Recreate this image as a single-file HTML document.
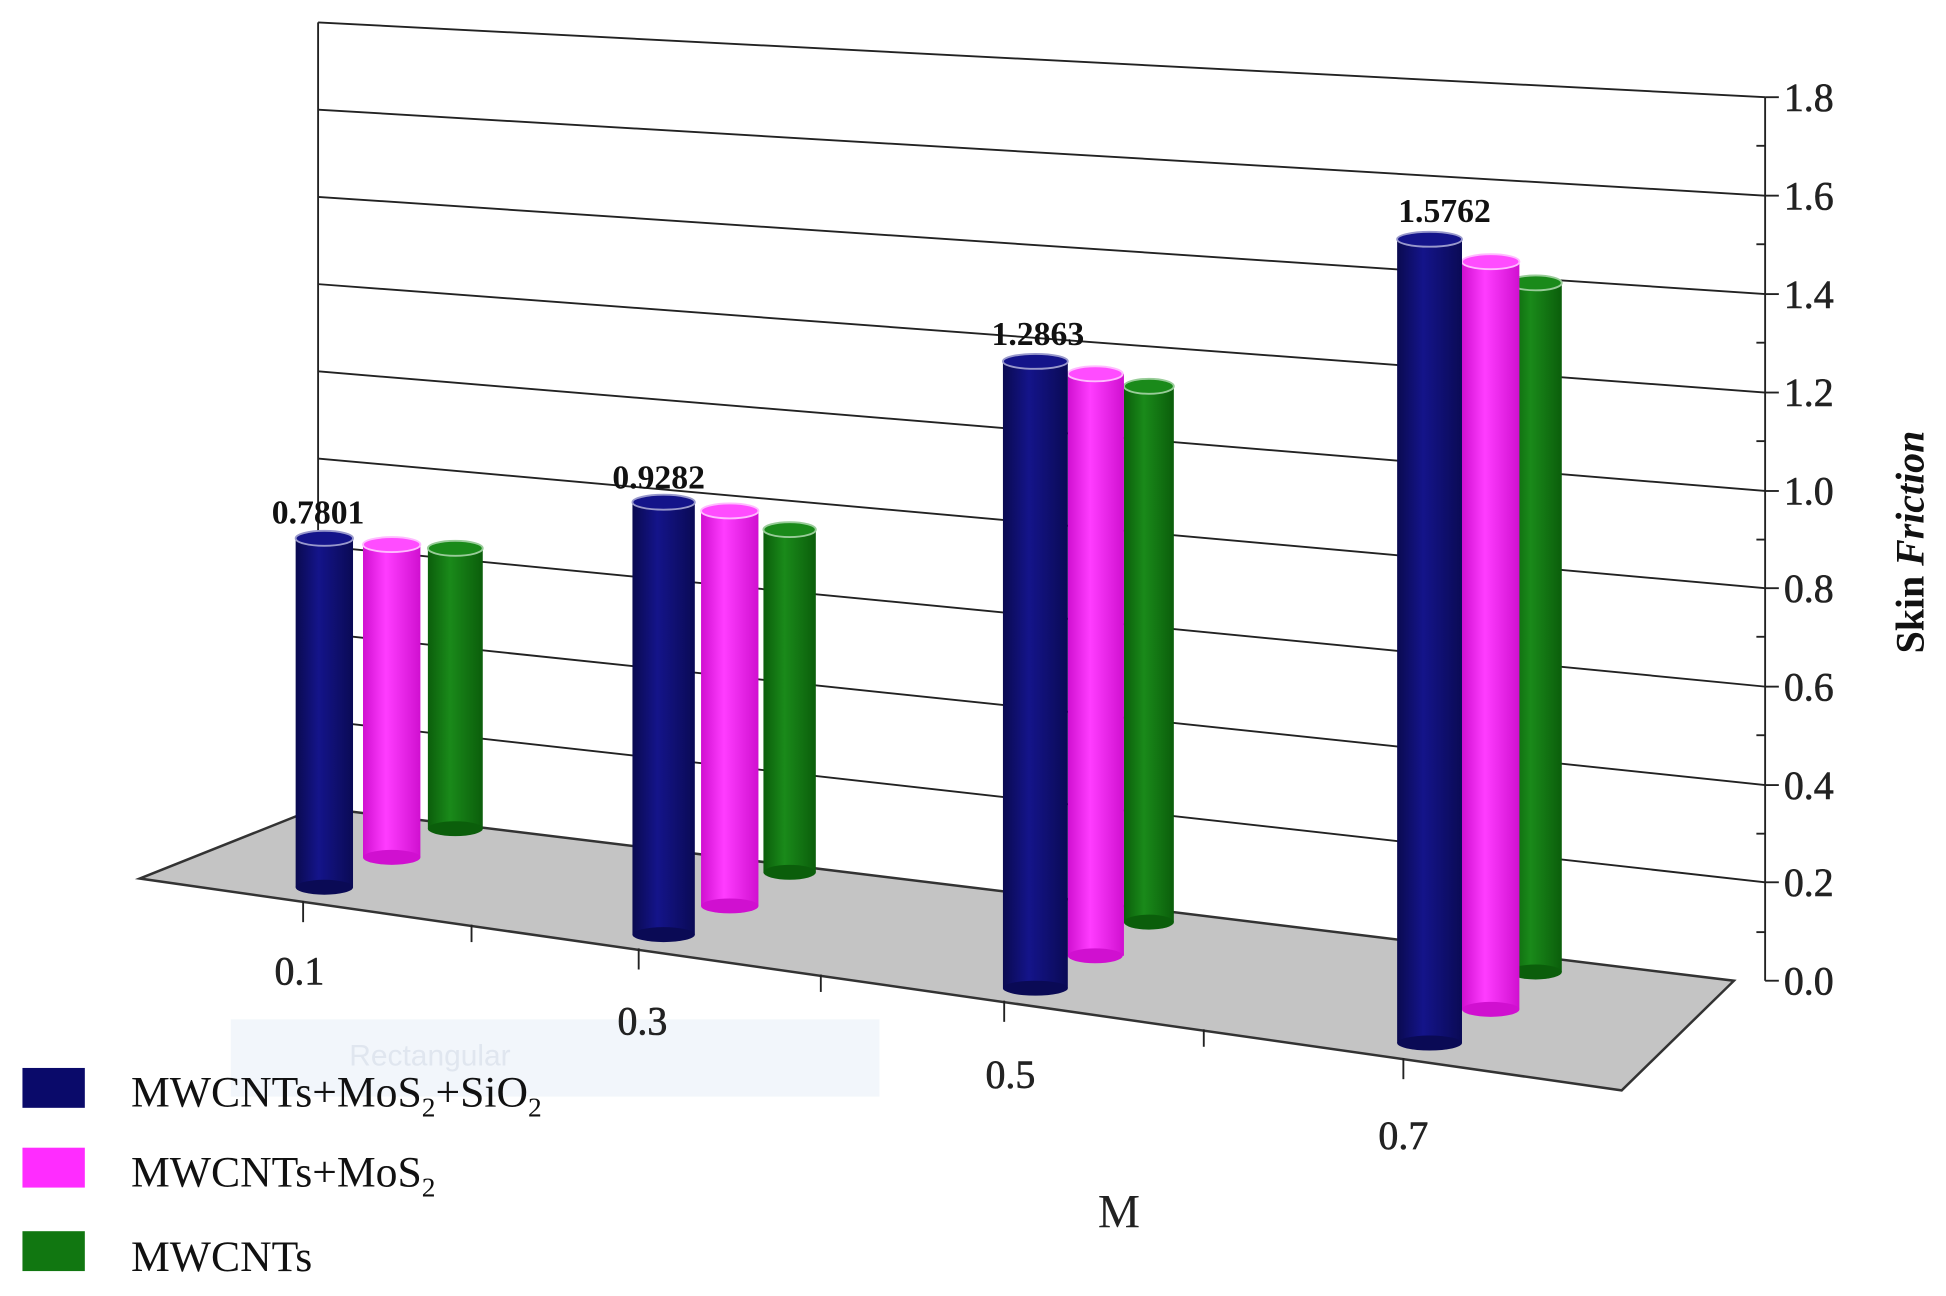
<!DOCTYPE html>
<html><head><meta charset="utf-8"><style>html,body{margin:0;padding:0;background:#fff}svg{display:block}</style></head>
<body>
<svg width="1946" height="1296" viewBox="0 0 1560 1040" preserveAspectRatio="none" xmlns="http://www.w3.org/2000/svg" font-family="Liberation Serif, serif">
<defs>
<linearGradient id="gb" x1="0" x2="1"><stop offset="0" stop-color="#0a0a50"/><stop offset="0.4" stop-color="#14148a"/><stop offset="1" stop-color="#0a0a55"/></linearGradient>
<linearGradient id="gp" x1="0" x2="1"><stop offset="0" stop-color="#d010d0"/><stop offset="0.4" stop-color="#ff3cff"/><stop offset="1" stop-color="#d010d0"/></linearGradient>
<linearGradient id="gg" x1="0" x2="1"><stop offset="0" stop-color="#0b5e0b"/><stop offset="0.4" stop-color="#1a8a1a"/><stop offset="1" stop-color="#0b5e0b"/></linearGradient>
</defs>
<rect width="1560" height="1040" fill="#fff"/>
<rect x="185" y="818" width="520" height="62" fill="#f2f6fb"/>
<text x="280" y="855" font-size="24" fill="#e0e6ef" font-family="Liberation Sans, sans-serif">Rectangular</text>
<polygon points="112,705 255,648 1390,787 1300,875" fill="#c4c4c4" stroke="#333" stroke-width="2"/>
<line x1="255" y1="18" x2="255" y2="648" stroke="#222" stroke-width="1.5"/>
<g stroke="#222" stroke-width="1.5">
<line x1="255" y1="18" x2="1415" y2="78"/>
<line x1="255" y1="88" x2="1415" y2="157"/>
<line x1="255" y1="158" x2="1415" y2="236"/>
<line x1="255" y1="228" x2="1415" y2="315"/>
<line x1="255" y1="298" x2="1415" y2="394"/>
<line x1="255" y1="368" x2="1415" y2="472"/>
<line x1="255" y1="438" x2="1415" y2="551"/>
<line x1="255" y1="508" x2="1415" y2="630"/>
<line x1="255" y1="578" x2="1415" y2="708"/>
<line x1="1415" y1="78" x2="1415" y2="787"/>
<line x1="1415" y1="78" x2="1426" y2="78"/><line x1="1415" y1="157" x2="1426" y2="157"/><line x1="1415" y1="236" x2="1426" y2="236"/><line x1="1415" y1="315" x2="1426" y2="315"/><line x1="1415" y1="394" x2="1426" y2="394"/><line x1="1415" y1="472" x2="1426" y2="472"/><line x1="1415" y1="551" x2="1426" y2="551"/><line x1="1415" y1="630" x2="1426" y2="630"/><line x1="1415" y1="708" x2="1426" y2="708"/><line x1="1415" y1="787" x2="1426" y2="787"/>
<line x1="1408" y1="117" x2="1415" y2="117"/><line x1="1408" y1="196" x2="1415" y2="196"/><line x1="1408" y1="275" x2="1415" y2="275"/><line x1="1408" y1="354" x2="1415" y2="354"/><line x1="1408" y1="433" x2="1415" y2="433"/><line x1="1408" y1="511" x2="1415" y2="511"/><line x1="1408" y1="590" x2="1415" y2="590"/><line x1="1408" y1="669" x2="1415" y2="669"/><line x1="1408" y1="748" x2="1415" y2="748"/>
<line x1="243" y1="723" x2="243" y2="740"/><line x1="378" y1="742" x2="378" y2="756"/><line x1="512" y1="761" x2="512" y2="778"/><line x1="658" y1="782" x2="658" y2="796"/><line x1="805" y1="803" x2="805" y2="820"/><line x1="965" y1="826" x2="965" y2="840"/><line x1="1125" y1="849" x2="1125" y2="866"/>
</g>
<g font-size="32" fill="#222" stroke="#222" stroke-width="0.5">
<text x="1430" y="89">1.8</text><text x="1430" y="168">1.6</text><text x="1430" y="247">1.4</text><text x="1430" y="326">1.2</text><text x="1430" y="405">1.0</text><text x="1430" y="483">0.8</text><text x="1430" y="562">0.6</text><text x="1430" y="641">0.4</text><text x="1430" y="719">0.2</text><text x="1430" y="798">0.0</text>
</g>
<text transform="translate(1542,435) rotate(-90)" text-anchor="middle" font-size="32" font-weight="bold" fill="#111">Skin <tspan font-style="italic">Friction</tspan></text>
<g font-size="32" fill="#222" text-anchor="middle" stroke="#222" stroke-width="0.5">
<text x="240" y="790">0.1</text><text x="515" y="830">0.3</text><text x="810" y="873">0.5</text><text x="1125" y="922">0.7</text>
</g>
<text x="897" y="985" font-size="38" text-anchor="middle" fill="#222">M</text>
<g stroke-width="1.5">
<rect x="343" y="440" width="44" height="225" fill="url(#gg)"/><ellipse cx="365" cy="665" rx="22" ry="6" fill="#0b5e0b"/><ellipse cx="365" cy="440" rx="22" ry="6" fill="#1a8a1a" stroke="#9c9"/>
<rect x="291" y="437" width="46" height="251" fill="url(#gp)"/><ellipse cx="314" cy="688" rx="23" ry="6" fill="#d010d0"/><ellipse cx="314" cy="437" rx="23" ry="6" fill="#ff4cff" stroke="#fbf"/>
<rect x="237" y="432" width="46" height="280" fill="url(#gb)"/><ellipse cx="260" cy="712" rx="23" ry="6" fill="#0a0a55"/><ellipse cx="260" cy="432" rx="23" ry="6" fill="#14148a" stroke="#99c"/>
<rect x="612" y="425" width="42" height="275" fill="url(#gg)"/><ellipse cx="633" cy="700" rx="21" ry="6" fill="#0b5e0b"/><ellipse cx="633" cy="425" rx="21" ry="6" fill="#1a8a1a" stroke="#9c9"/>
<rect x="562" y="410" width="46" height="317" fill="url(#gp)"/><ellipse cx="585" cy="727" rx="23" ry="6" fill="#d010d0"/><ellipse cx="585" cy="410" rx="23" ry="6" fill="#ff4cff" stroke="#fbf"/>
<rect x="507" y="403" width="50" height="347" fill="url(#gb)"/><ellipse cx="532" cy="750" rx="25" ry="6" fill="#0a0a55"/><ellipse cx="532" cy="403" rx="25" ry="6" fill="#14148a" stroke="#99c"/>
<rect x="901" y="310" width="40" height="430" fill="url(#gg)"/><ellipse cx="921" cy="740" rx="20" ry="6" fill="#0b5e0b"/><ellipse cx="921" cy="310" rx="20" ry="6" fill="#1a8a1a" stroke="#9c9"/>
<rect x="856" y="300" width="45" height="467" fill="url(#gp)"/><ellipse cx="878" cy="767" rx="22" ry="6" fill="#d010d0"/><ellipse cx="878" cy="300" rx="22" ry="6" fill="#ff4cff" stroke="#fbf"/>
<rect x="804" y="290" width="52" height="503" fill="url(#gb)"/><ellipse cx="830" cy="793" rx="26" ry="6" fill="#0a0a55"/><ellipse cx="830" cy="290" rx="26" ry="6" fill="#14148a" stroke="#99c"/>
<rect x="1210" y="227" width="42" height="553" fill="url(#gg)"/><ellipse cx="1231" cy="780" rx="21" ry="6" fill="#0b5e0b"/><ellipse cx="1231" cy="227" rx="21" ry="6" fill="#1a8a1a" stroke="#9c9"/>
<rect x="1172" y="210" width="46" height="600" fill="url(#gp)"/><ellipse cx="1195" cy="810" rx="23" ry="6" fill="#d010d0"/><ellipse cx="1195" cy="210" rx="23" ry="6" fill="#ff4cff" stroke="#fbf"/>
<rect x="1120" y="192" width="52" height="645" fill="url(#gb)"/><ellipse cx="1146" cy="837" rx="26" ry="6" fill="#0a0a55"/><ellipse cx="1146" cy="192" rx="26" ry="6" fill="#14148a" stroke="#99c"/>
</g>
<g font-size="27" font-weight="bold" fill="#111" text-anchor="middle">
<text x="255" y="420">0.7801</text><text x="528" y="392">0.9282</text><text x="832" y="277">1.2863</text><text x="1158" y="178">1.5762</text>
</g>
<rect x="18" y="857" width="50" height="32" fill="#0a0a6a"/>
<rect x="18" y="921" width="50" height="32" fill="#ff2cff"/>
<rect x="18" y="988" width="50" height="32" fill="#117711"/>
<g font-size="35" fill="#111">
<text x="105" y="888">MWCNTs+MoS<tspan font-size="22" dy="8">2</tspan><tspan dy="-8">+SiO</tspan><tspan font-size="22" dy="8">2</tspan></text>
<text x="105" y="952">MWCNTs+MoS<tspan font-size="22" dy="8">2</tspan></text>
<text x="105" y="1020">MWCNTs</text>
</g>
</svg>
</body></html>
